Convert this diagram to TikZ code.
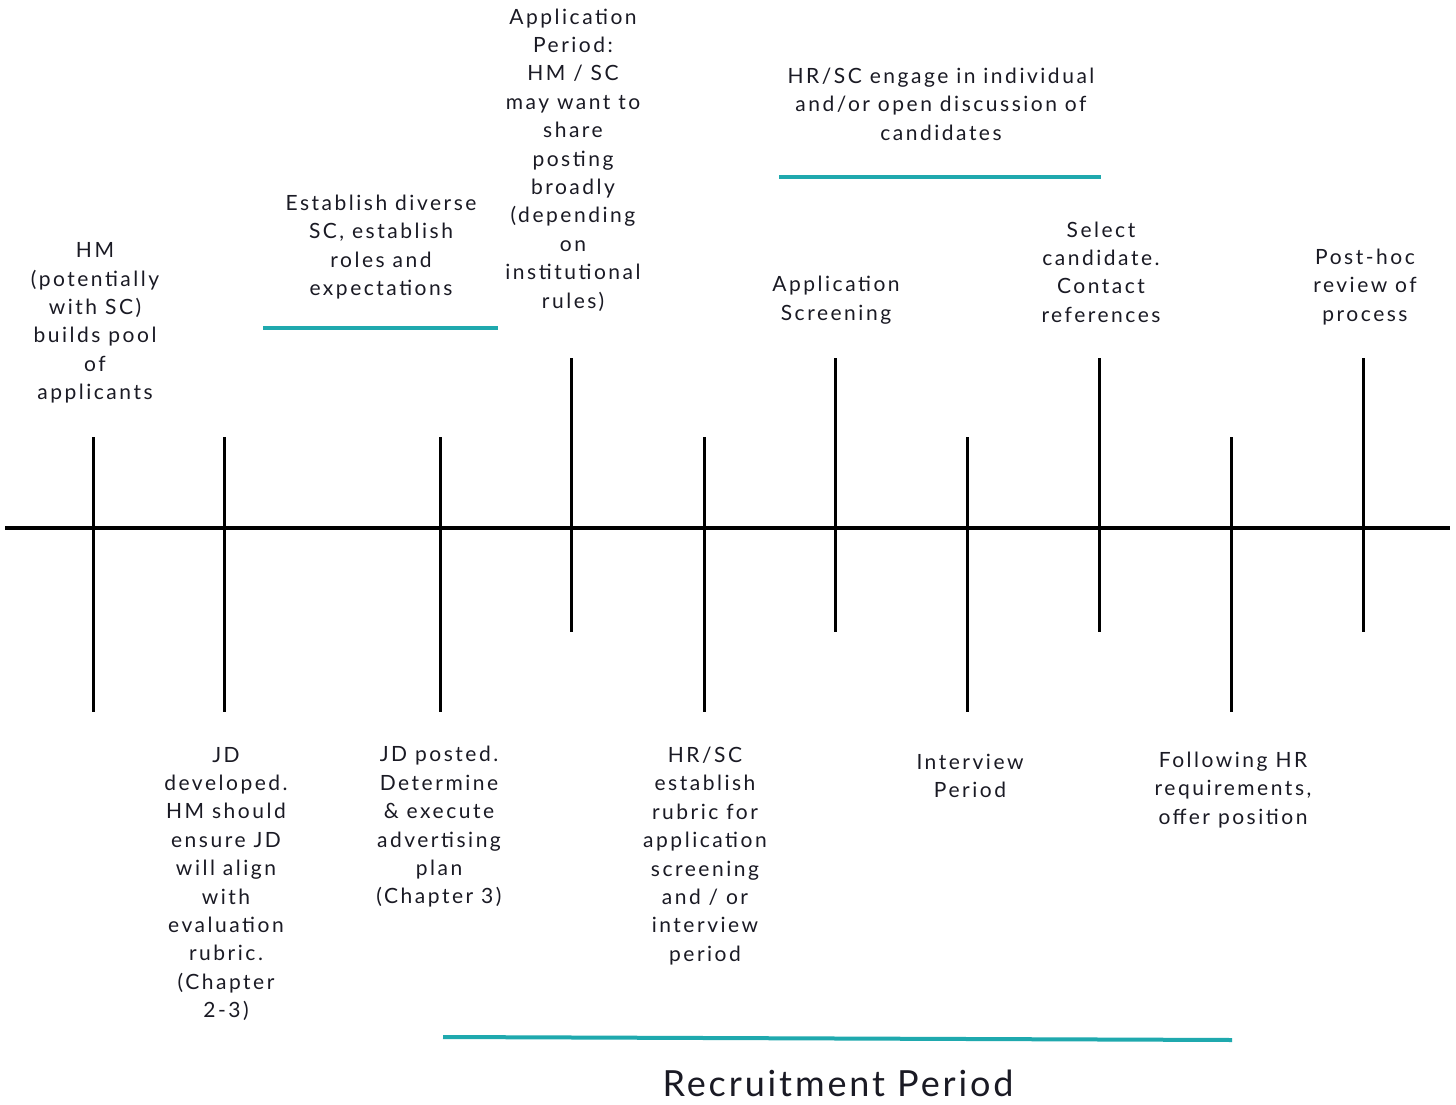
\documentclass[tikz,border=0pt]{standalone}
\usepackage{fontspec}
\setmainfont{Lato}
\newfontfamily\hand[LetterSpace=12]{Lato}
\newfontfamily\handbig[LetterSpace=8]{Lato}
\definecolor{tealline}{HTML}{1FA9AE}
\definecolor{inkc}{HTML}{1A1A24}
\begin{document}
\begin{tikzpicture}[x=1pt,y=-1pt,
  tick/.style={line width=3pt,black},
  axis/.style={line width=3.5pt,black},
  bar/.style={line width=4pt,tealline},
  lbl/.style={align=center,inner sep=0pt,text=inkc,font=\hand\fontsize{21}{28.4}\selectfont},
  biglbl/.style={inner sep=0pt,text=inkc,font=\handbig\fontsize{36}{40}\selectfont}]
\useasboundingbox[fill=white] (0,0) rectangle (1456,1105);
% axis
\coordinate (axL) at (5,528);
\coordinate (axR) at (1450,528);
\draw[axis] (axL) -- (axR);
% long ticks (lower)
\foreach \n/\x in {a/93,b/224,c/440,e/704,g/967,i/1231}{
  \coordinate (\n top) at (\x,437);
  \coordinate (\n bot) at (\x,712);
  \draw[tick] (\n top) -- (\n bot);
}
% upper ticks
\foreach \n/\x in {d/571,f/835,h/1099,j/1363}{
  \coordinate (\n top) at (\x,358);
  \coordinate (\n bot) at (\x,632);
  \draw[tick] (\n top) -- (\n bot);
}
% teal bars
\coordinate (b1L) at (263,328); \coordinate (b1R) at (498,328);
\draw[bar] (b1L) -- (b1R);
\coordinate (b2L) at (779,177); \coordinate (b2R) at (1101,177);
\draw[bar] (b2L) -- (b2R);
\coordinate (b3L) at (443,1037); \coordinate (b3R) at (1232,1040);
\draw[bar] (b3L) -- (b3R);
% upper labels
\node[lbl] (t1) at (95,323) {HM\\(potentially\\with SC)\\builds pool\\of\\applicants};
\node[lbl] (t2) at (381,247) {Establish diverse\\SC, establish\\roles and\\expectations};
\node[lbl] (t3) at (573,160) {Application\\Period:\\HM / SC\\may want to\\share\\posting\\broadly\\(depending\\on\\institutional\\rules)};
\node[lbl] (t4) at (941,104) {HR/SC engage in individual\\and/or open discussion of\\candidates};
\node[lbl] (t5) at (836,300) {Application\\Screening};
\node[lbl] (t6) at (1101,272) {Select\\candidate.\\Contact\\references};
\node[lbl] (t7) at (1365,287) {Post-hoc\\review of\\process};
% lower labels
\node[lbl] (t8) at (226,884) {JD\\developed.\\HM should\\ensure JD\\will align\\with\\evaluation\\rubric.\\(Chapter\\2-3)};
\node[lbl] (t9) at (439,827) {JD posted.\\Determine\\\& execute\\advertising\\plan\\(Chapter 3)};
\node[lbl] (t10) at (705,856) {HR/SC\\establish\\rubric for\\application\\screening\\and / or\\interview\\period};
\node[lbl] (t11) at (970,776) {Interview\\Period};
\node[lbl] (t12) at (1233,790) {Following HR\\requirements,\\offer position};
\node[biglbl] (t13) at (838,1083) {Recruitment Period};
\end{tikzpicture}
\end{document}
